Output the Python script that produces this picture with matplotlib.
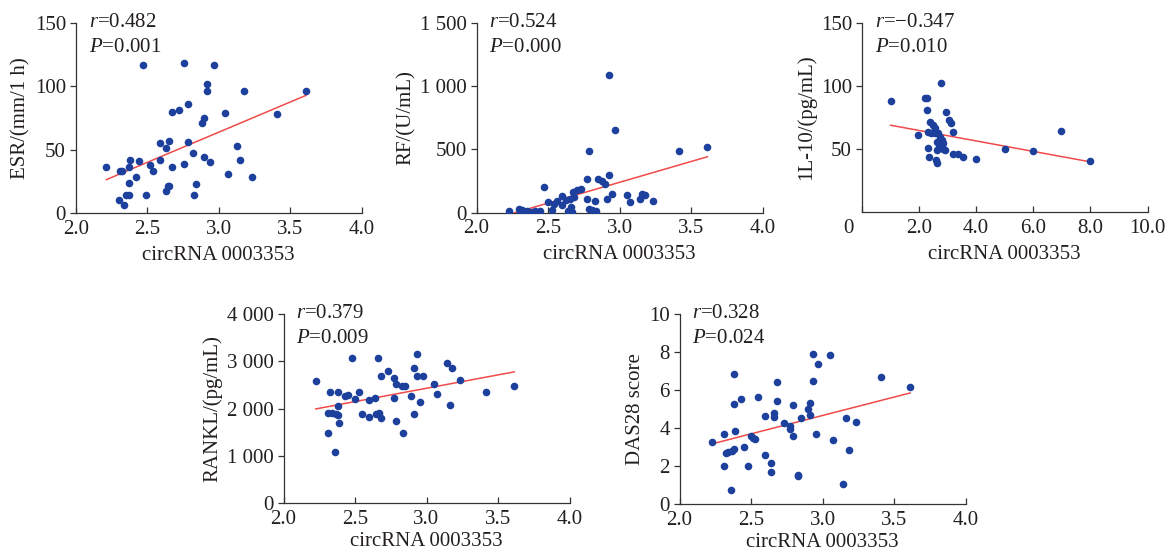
import numpy as np
import matplotlib
matplotlib.use("Agg")
import matplotlib.pyplot as plt
import matplotlib.transforms as mtransforms

plt.rcParams['font.family'] = 'Liberation Serif'
plt.rcParams['mathtext.fontset'] = 'custom'
plt.rcParams['mathtext.rm'] = 'Liberation Serif'
plt.rcParams['mathtext.it'] = 'Liberation Serif:italic'

# ---- data ----
esr_x = [2.215, 2.30, 2.31, 2.325, 2.34, 2.35, 2.37, 2.37, 2.37, 2.38, 2.42, 2.44, 2.47, 2.49,
         2.52, 2.54, 2.59, 2.59, 2.63, 2.65, 2.63, 2.645, 2.65, 2.67, 2.67, 2.72, 2.76, 2.76,
         2.785, 2.785, 2.82, 2.825, 2.84, 2.88, 2.90, 2.90, 2.92, 2.92, 2.94, 2.965, 3.045,
         3.065, 3.13, 3.15, 3.175, 3.23, 3.405, 3.61]
esr_y = [36, 10.5, 33, 33, 6, 14, 14, 24, 36, 42, 28, 41, 117, 14,
         38, 33, 55, 42, 51, 57, 17, 21, 21.5, 80, 36, 81, 39, 118,
         86, 56, 47, 14, 23, 71, 75, 44.5, 102, 96, 40, 117, 79,
         31, 53, 42, 96, 28, 78, 96]

rf_x = [2.225, 2.30, 2.305, 2.32, 2.35, 2.38, 2.41, 2.445, 2.475, 2.50, 2.525, 2.545, 2.56,
        2.595, 2.60, 2.625, 2.64, 2.655, 2.66, 2.67, 2.675, 2.68, 2.70, 2.73, 2.77, 2.77,
        2.79, 2.79, 2.81, 2.83, 2.835, 2.85, 2.88, 2.90, 2.91, 2.93, 2.93, 2.95, 2.97,
        3.05, 3.07, 3.14, 3.16, 3.18, 3.235, 3.415, 3.615]
rf_y = [8, 29, 8, 18, 12, 3, 8, 8, 200, 80, 21, 65, 90,
        129, 60, 100, 8, 105, 45, 3, 165, 125, 180, 182, 268, 106,
        483, 29, 21, 89, 8, 264, 251, 227, 108, 1085, 293, 150, 650,
        135, 82, 108, 145, 140, 87, 483, 518]

il10_x = [1.01, 1.98, 2.21, 2.29, 2.27, 2.33, 2.41, 2.39, 2.48, 2.56, 2.56, 2.33, 2.35, 2.60,
          2.64, 2.62, 2.64, 2.68, 2.71, 2.74, 2.76, 2.76, 2.80, 2.80, 2.85, 2.85, 2.90, 2.95,
          3.06, 3.13, 3.18, 3.20, 3.38, 3.55, 4.0, 5.0, 6.0, 6.97, 7.98]
il10_y = [87.7, 61.2, 90.7, 90.7, 80.9, 63.8, 62.5, 71.7, 69, 66.4, 62.9, 50.6, 43.5, 41.4,
          39.2, 55.9, 49.3, 62.5, 51.9, 59.8, 56.0, 102.5, 57.2, 53.3, 54.6, 49.8, 49.3, 79.3,
          73, 70.9, 63.5, 45.9, 45.9, 44, 41.9, 50.3, 48.7, 64.5, 40.2]

rankl_x = [2.226, 2.31, 2.31, 2.327, 2.34, 2.36, 2.366, 2.38, 2.38, 2.38, 2.39, 2.43, 2.45,
           2.478, 2.50, 2.527, 2.546, 2.60, 2.60, 2.64, 2.65, 2.662, 2.667, 2.68, 2.683,
           2.73, 2.77, 2.77, 2.79, 2.79, 2.83, 2.833, 2.85, 2.89, 2.91, 2.91, 2.933, 2.933,
           2.954, 2.975, 3.05, 3.07, 3.14, 3.164, 3.18, 3.234, 3.414, 3.614]
rankl_y = [2590, 1915, 1472, 2345, 1901, 1084, 1887, 2345, 2049, 1866, 1683, 2267, 2282,
           3070, 2211, 2352, 1880, 2176, 1824, 2232, 1894, 3070, 1908, 2690, 1803,
           2796, 2648, 2232, 2521, 1725, 2486, 1472, 2479, 2267, 2859, 1894, 3162, 2690,
           2127, 2683, 2514, 2317, 2965, 2070, 2859, 2613, 2352, 2486]

das_x = [2.228, 2.31, 2.31, 2.326, 2.34, 2.36, 2.366, 2.377, 2.377, 2.38, 2.39, 2.43, 2.45,
         2.48, 2.496, 2.51, 2.53, 2.55, 2.60, 2.60, 2.64, 2.64, 2.66, 2.66, 2.68, 2.68,
         2.73, 2.77, 2.77, 2.79, 2.79, 2.85, 2.83, 2.83, 2.894, 2.91, 2.91, 2.93, 2.93,
         2.95, 2.97, 3.05, 3.07, 3.14, 3.16, 3.18, 3.23, 3.41, 3.61]
das_y = [3.26, 3.70, 2.0, 2.71, 2.75, 0.75, 2.78, 6.86, 5.25, 2.9, 3.82, 5.55, 3.01,
         2.01, 3.57, 3.45, 3.41, 5.62, 2.56, 4.64, 2.14, 1.66, 4.78, 4.57, 6.44, 5.43,
         4.26, 4.08, 3.94, 5.22, 3.59, 4.55, 1.52, 1.45, 5.0, 5.3, 4.66, 7.9, 6.5,
         3.7, 7.37, 7.85, 3.38, 1.05, 4.55, 2.82, 4.31, 6.67, 6.15]

stats_r = ['0.482', '0.524', '\u22120.347', '0.379', '0.328']
stats_p = ['0.001', '0.000', '0.010', '0.009', '0.024']

ylabels = ['ESR/(mm/1 h)', 'RF/(U/mL)', '1L-10/(pg/mL)', 'RANKL/(pg/mL)', 'DAS28 score']
xlabel = 'circRNA 0003353'

x_ticks_std = [2.0, 2.5, 3.0, 3.5, 4.0]
x_ticklabels_std = ['2.0', '2.5', '3.0', '3.5', '4.0']
x_ticks_il10 = [0, 2, 4, 6, 8, 10]
x_ticklabels_il10 = ['0', '2.0', '4.0', '6.0', '8.0', '10.0']

esr_ticks = [0, 50, 100, 150]
esr_ticklabels = ['0', '50', '100', '150']
rf_ticks = [0, 500, 1000, 1500]
rf_ticklabels = ['0', '500', '1 000', '1 500']
il10_ticks = [50, 100, 150]
il10_ticklabels = ['50', '100', '150']
rankl_ticks = [0, 1000, 2000, 3000, 4000]
rankl_ticklabels = ['0', '1 000', '2 000', '3 000', '4 000']
das_ticks = [0, 2, 4, 6, 8, 10]
das_ticklabels = ['0', '2', '4', '6', '8', '10']

# ---- figure ----
W, H = 1168, 555
fig = plt.figure(figsize=(W / 100, H / 100), dpi=100)

def rect(left, right, top, bottom):
    return [left / W, 1 - bottom / H, (right - left) / W, (bottom - top) / H]

dot_color = '#1c409b'
line_color = '#f04a4a'
axis_color = '#333333'
text_color = '#231f20'
fs = 15

panels = [
    (rect(75.7, 361.7, 22.7, 213), esr_x, esr_y, (2.0, 4.0), (0, 150),
     x_ticks_std, x_ticklabels_std, esr_ticks, esr_ticklabels, 0),
    (rect(476.5, 762.5, 22.7, 212.5), rf_x, rf_y, (2.0, 4.0), (0, 1500),
     x_ticks_std, x_ticklabels_std, rf_ticks, rf_ticklabels, 1),
    (rect(861.7, 1147.5, 22.7, 212.3), il10_x, il10_y, (0, 10), (0, 150),
     x_ticks_il10, x_ticklabels_il10, il10_ticks, il10_ticklabels, 2),
    (rect(283.5, 569.5, 314, 503), rankl_x, rankl_y, (2.0, 4.0), (0, 4000),
     x_ticks_std, x_ticklabels_std, rankl_ticks, rankl_ticklabels, 3),
    (rect(679.5, 966, 314, 504), das_x, das_y, (2.0, 4.0), (0, 10),
     x_ticks_std, x_ticklabels_std, das_ticks, das_ticklabels, 4),
]

for pos, xs, ys, xlim, ylim, xt, xtl, yt, ytl, i in panels:
    ax = fig.add_axes(pos)
    xs = np.array(xs)
    ys = np.array(ys)
    ax.scatter(xs, ys, s=30, color=dot_color, zorder=3, linewidths=0)

    # least-squares fit line across the data range
    k, b = np.polyfit(xs, ys, 1)
    fx = np.array([xs.min(), xs.max()])
    ax.plot(fx, k * fx + b, color=line_color, lw=1.1, zorder=2)

    ax.set_xlim(*xlim)
    ax.set_ylim(*ylim)
    ax.set_xticks(xt)
    ax.set_xticklabels(xtl)
    ax.set_yticks(yt)
    ax.set_yticklabels(ytl)

    for s in ['top', 'right']:
        ax.spines[s].set_visible(False)
    for s in ['left', 'bottom']:
        ax.spines[s].set_color(axis_color)
        ax.spines[s].set_linewidth(0.9)
    ax.tick_params(axis='x', direction='in', length=4, width=0.9, color=axis_color,
                   labelsize=fs, pad=5, labelcolor=text_color)
    ax.tick_params(axis='y', direction='out', length=4, width=0.9, color=axis_color,
                   labelsize=fs, pad=3, labelcolor=text_color)
    ax.set_xlabel(xlabel, fontsize=fs, color=text_color, labelpad=5 if i < 3 else 2)
    ax.set_ylabel(ylabels[i], fontsize=fs, color=text_color, labelpad=3)

    ax.text(0.045, 1.0, '$r$=' + stats_r[i], transform=ax.transAxes, fontsize=fs,
            va='center', ha='left', color=text_color)
    ax.text(0.045, 0.87, '$P$=' + stats_p[i], transform=ax.transAxes, fontsize=fs,
            va='center', ha='left', color=text_color)

    if i == 2:
        # the origin label sits left of the axis corner
        lab = ax.get_xticklabels()[0]
        lab.set_transform(lab.get_transform() +
                          mtransforms.ScaledTranslation(-13 / 100, 0, fig.dpi_scale_trans))

fig.savefig('out.png', dpi=100)
